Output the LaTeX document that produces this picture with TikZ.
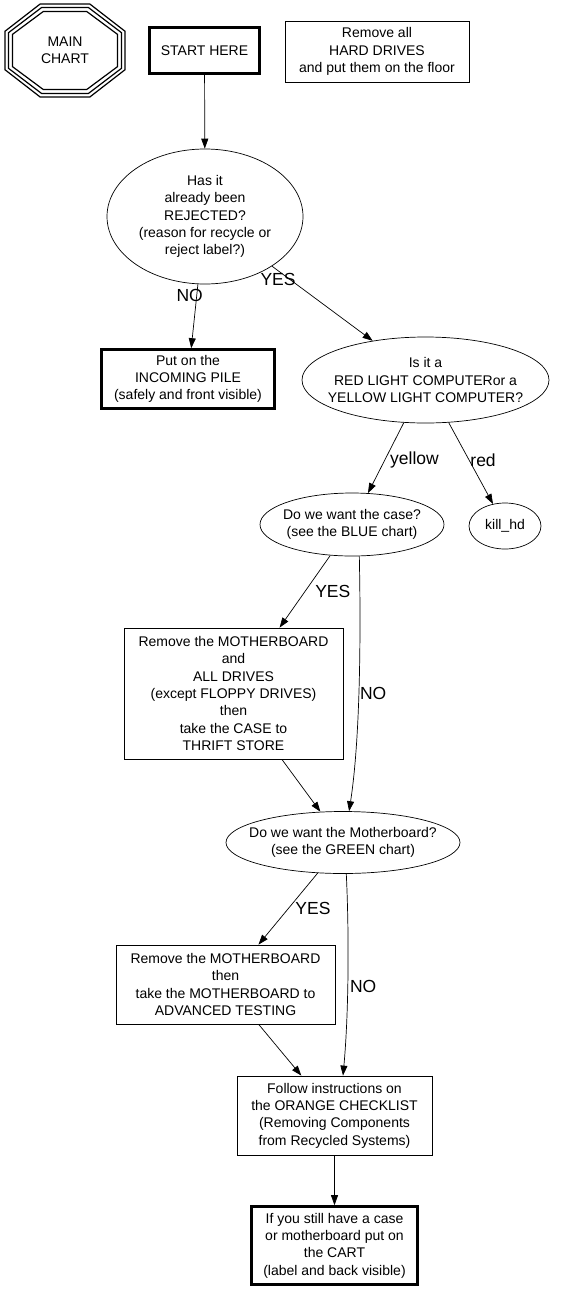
\documentclass[tikz,border=0pt]{standalone}
\usepackage{fontspec}
\setmainfont{Liberation Sans}
\usepackage{tikz}
\usetikzlibrary{shapes, arrows.meta, positioning, calc}

\begin{document}
\begin{tikzpicture}[x=1pt, y=-1pt,
  txt/.style={font=\fontsize{14}{17.3}\selectfont, align=center, inner sep=0pt},
  plainbox/.style={txt, draw, rectangle, line width=0.8pt},
  heavybox/.style={txt, draw, rectangle, line width=2.6pt},
  oval/.style={draw, ellipse, line width=0.7pt, inner sep=0pt},
  lbl/.style={font=\fontsize{17.5}{20}\selectfont, inner sep=0pt},
  flow/.style={line width=0.7pt, -{Triangle[length=10pt, width=7pt]}}]
  \useasboundingbox (0,0) rectangle (560,1291);

  \foreach \a/\b in {60/46.5, 56.5/43, 52.5/39}
    \draw[line width=1.2pt] ({65-0.414*\a},{50.5-\b}) -- ({65+0.414*\a},{50.5-\b}) -- ({65+\a},{50.5-0.414*\b}) -- ({65+\a},{50.5+0.414*\b}) -- ({65+0.414*\a},{50.5+\b}) -- ({65-0.414*\a},{50.5+\b}) -- ({65-\a},{50.5+0.414*\b}) -- ({65-\a},{50.5-0.414*\b}) -- cycle;
  \node[txt] (mainchart) at (65,50.5) {MAIN\\CHART};

  \node[heavybox, minimum width=110pt, minimum height=46pt] (start) at (204.5,50.5) {START HERE};
  \node[plainbox, minimum width=184pt, minimum height=61pt] (hdd) at (377,51.5) {Remove all\\HARD DRIVES\\and put them on the floor};
  \node[oval, minimum width=196pt, minimum height=135pt, label={[txt]center:{Has it\\already been\\REJECTED?\\(reason for recycle or\\reject label?)}}] (rejected) at (205,216.5) {};
  \node[heavybox, minimum width=173pt, minimum height=59pt] (pile) at (188,379) {Put on the\\INCOMING PILE\\(safely and front visible)};
  \node[oval, minimum width=247pt, minimum height=86pt, label={[txt]center:{Is it a\\RED LIGHT COMPUTERor a\\YELLOW LIGHT COMPUTER?}}] (colour) at (425.5,380) {};
  \node[oval, minimum width=72pt, minimum height=46pt, label={[txt]center:{kill\_hd}}] (killhd) at (505,526) {};
  \node[oval, minimum width=184pt, minimum height=63pt, label={[txt]center:{Do we want the case?\\(see the BLUE chart)}}] (wantcase) at (352,524.5) {};
  \node[plainbox, minimum width=219pt, minimum height=131pt] (strip) at (233.5,693.5) {Remove the MOTHERBOARD\\and\\ALL DRIVES\\(except FLOPPY DRIVES)\\then\\take the CASE to\\THRIFT STORE};
  \node[oval, minimum width=234pt, minimum height=62pt, label={[txt]center:{Do we want the Motherboard?\\(see the GREEN chart)}}] (wantmb) at (343,842.5) {};
  \node[plainbox, minimum width=219pt, minimum height=79pt] (mbtest) at (225.5,984.5) {Remove the MOTHERBOARD\\then\\take the MOTHERBOARD to\\ADVANCED TESTING};
  \node[plainbox, minimum width=195pt, minimum height=79pt] (orange) at (334.5,1115.5) {Follow instructions on\\the ORANGE CHECKLIST\\(Removing Components\\from Recycled Systems)};
  \node[heavybox, minimum width=166pt, minimum height=78pt] (cart) at (334.5,1245.5) {If you still have a case\\or motherboard put on\\the CART\\(label and back visible)};

  \draw[flow] (start) -- (rejected);
  \draw[flow] (rejected) -- node[lbl, pos=0.18, xshift=-7pt] {NO} (pile);
  \draw[flow] (rejected) -- node[lbl, pos=0.06, anchor=north, yshift=-2pt] {YES} (colour);
  \draw[flow] (colour) -- node[lbl, pos=0.53, anchor=west, xshift=5pt] {yellow} (wantcase);
  \draw[flow] (colour) -- node[lbl, pos=0.46, anchor=west, xshift=1pt] {red} (killhd);
  \draw[flow] (wantcase) -- node[lbl, pos=0.5, anchor=west, xshift=10pt] {YES} (strip);
  \draw[flow] (wantcase.283) .. controls (361,640) and (360,740) .. node[lbl, pos=0.52, anchor=west, xshift=1pt] {NO} (wantmb.79);
  \draw[flow] (strip) -- (wantmb);
  \draw[flow] (wantmb) -- node[lbl, pos=0.5, anchor=west, xshift=7pt] {YES} (mbtest);
  \draw[flow] (wantmb.276) .. controls (349,930) and (349,1010) .. node[lbl, pos=0.57, anchor=west, xshift=2pt] {NO} ([xshift=8.5pt]orange.north);
  \draw[flow] (mbtest) -- (orange);
  \draw[flow] (orange) -- (cart);
\end{tikzpicture}
\end{document}
